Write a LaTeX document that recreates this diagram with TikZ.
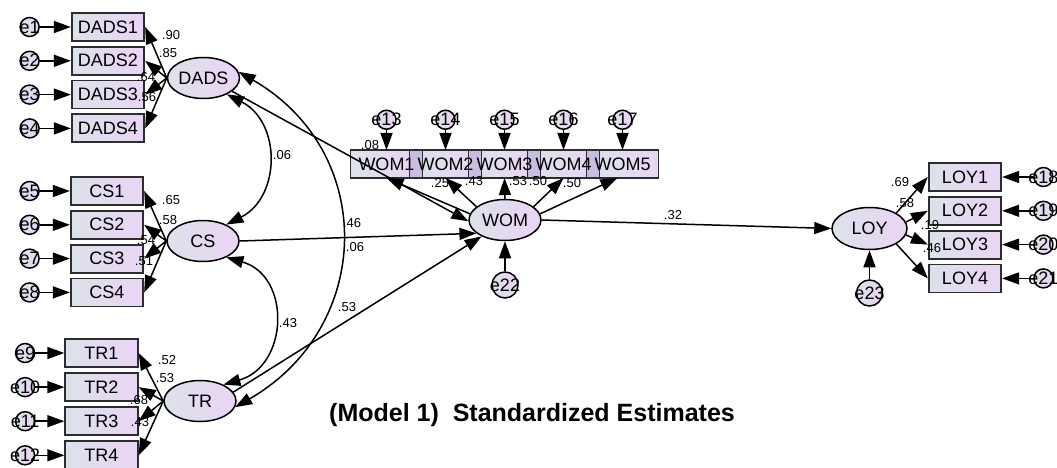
\documentclass[tikz,border=0pt]{standalone}
\usepackage{fontspec}
\setmainfont{Liberation Sans}
\usetikzlibrary{shapes.geometric, arrows.meta, positioning}

\definecolor{boxleft}{RGB}{220,226,234}
\definecolor{boxright}{RGB}{234,212,245}
\definecolor{wstrip}{RGB}{202,189,226}
\definecolor{boxline}{RGB}{45,45,45}

\begin{document}
\begin{tikzpicture}[x=1pt, y=-1pt, line width=1.5pt,
  arr/.style={-{Triangle[length=17pt,width=12pt]}},
  darr/.style={{Triangle[length=17pt,width=12pt]}-{Triangle[length=17pt,width=12pt]}},
  every node/.style={font=\fontsize{18}{20}\selectfont},
  obs/.style={rectangle, draw=boxline, line width=1.8pt, left color=boxleft, right color=boxright, minimum width=72.5pt, minimum height=28pt, inner sep=1pt},
  wobs/.style={obs, minimum width=72pt, outer sep=0pt},
  lat/.style={ellipse, draw, line width=1.5pt, left color=boxleft, right color=boxright, minimum width=72pt, minimum height=41pt, inner sep=0pt},
  err/.style={circle, draw, line width=1.5pt, left color=boxleft, right color=boxright, minimum size=19pt, inner sep=0pt},
  bigerr/.style={err, minimum size=26pt},
  lbl/.style={font=\fontsize{13}{14}\selectfont, inner sep=0pt}]
  \useasboundingbox (0,0) rectangle (1057,468);

  % Latent variables
  \node (DADS) [lat] at (203.5,78) {DADS};
  \node (CS) [lat] at (203,241) {CS};
  \node (TR) [lat] at (200,401) {TR};
  \node (WOM) [lat] at (505,220) {WOM};
  \node (LOY) [lat, minimum width=75pt, minimum height=42pt] at (869.5,228.5) {LOY};

  % DADS indicators
  \node (DADS1) [obs] at (108,27) {DADS1};
  \node (DADS2) [obs, below=4pt of DADS1] {DADS2};
  \node (DADS3) [obs, below=4pt of DADS2] {DADS3};
  \node (DADS4) [obs, below=4pt of DADS3] {DADS4};
  \node (e1) [err, left=31pt of DADS1] {\makebox[0pt]{e1}};
  \node (e2) [err, left=31pt of DADS2] {\makebox[0pt]{e2}};
  \node (e3) [err, left=31pt of DADS3] {\makebox[0pt]{e3}};
  \node (e4) [err, left=31pt of DADS4] {\makebox[0pt]{e4}};

  % CS indicators
  \node (CS1) [obs] at (107,191) {CS1};
  \node (CS2) [obs, below=4pt of CS1] {CS2};
  \node (CS3) [obs, below=4pt of CS2] {CS3};
  \node (CS4) [obs, below=4pt of CS3] {CS4};
  \node (e5) [err, left=30pt of CS1] {\makebox[0pt]{e5}};
  \node (e6) [err, left=30pt of CS2] {\makebox[0pt]{e6}};
  \node (e7) [err, left=30pt of CS3] {\makebox[0pt]{e7}};
  \node (e8) [err, left=30pt of CS4] {\makebox[0pt]{e8}};

  % TR indicators
  \node (TR1) [obs] at (101.5,353) {TR1};
  \node (TR2) [obs, below=4.3pt of TR1] {TR2};
  \node (TR3) [obs, below=4.3pt of TR2] {TR3};
  \node (TR4) [obs, below=4.3pt of TR3] {TR4};
  \node (e9) [err, left=29pt of TR1] {\makebox[0pt]{e9}};
  \node (e10) [err, left=29pt of TR2] {\makebox[0pt]{e10}};
  \node (e11) [err, left=29pt of TR3] {\makebox[0pt]{e11}};
  \node (e12) [err, left=29pt of TR4] {\makebox[0pt]{e12}};

  % WOM indicators (boxes overlap, names written on top)
  \node (WOM1) [wobs] at (386.5,164) {};
  \node (WOM2) [wobs, right=-13pt of WOM1] {};
  \node (WOM3) [wobs, right=-13pt of WOM2] {};
  \node (WOM4) [wobs, right=-13pt of WOM3] {};
  \node (WOM5) [wobs, right=-13pt of WOM4] {};
  \draw[boxline, line width=1.8pt, fill=wstrip] (WOM2.north west) rectangle (WOM1.south east);
  \draw[boxline, line width=1.8pt, fill=wstrip] (WOM3.north west) rectangle (WOM2.south east);
  \draw[boxline, line width=1.8pt, fill=wstrip] (WOM4.north west) rectangle (WOM3.south east);
  \draw[boxline, line width=1.8pt, fill=wstrip] (WOM5.north west) rectangle (WOM4.south east);
  \node (WOM1t) at (WOM1) {WOM1};
  \node (WOM2t) at (WOM2) {WOM2};
  \node (WOM3t) at (WOM3) {WOM3};
  \node (WOM4t) at (WOM4) {WOM4};
  \node (WOM5t) at (WOM5) {WOM5};
  \node (e13) [err, above=20pt of WOM1] {\makebox[0pt]{e13}};
  \node (e14) [err, above=20pt of WOM2] {\makebox[0pt]{e14}};
  \node (e15) [err, above=20pt of WOM3] {\makebox[0pt]{e15}};
  \node (e16) [err, above=20pt of WOM4] {\makebox[0pt]{e16}};
  \node (e17) [err, above=20pt of WOM5] {\makebox[0pt]{e17}};
  \node (e22) [bigerr, below=30pt of WOM] {\makebox[0pt]{e22}};

  % LOY indicators
  \node (LOY1) [obs] at (965,177) {LOY1};
  \node (LOY2) [obs, below=4pt of LOY1] {LOY2};
  \node (LOY3) [obs, below=4pt of LOY2] {LOY3};
  \node (LOY4) [obs, below=4pt of LOY3] {LOY4};
  \node (e18) [err, right=31pt of LOY1] {\makebox[0pt]{e18}};
  \node (e19) [err, right=31pt of LOY2] {\makebox[0pt]{e19}};
  \node (e20) [err, right=31pt of LOY3] {\makebox[0pt]{e20}};
  \node (e21) [err, right=31pt of LOY4] {\makebox[0pt]{e21}};
  \node (e23) [bigerr, below=29pt of LOY] {\makebox[0pt]{e23}};

  % Errors to indicators
  \draw[arr] (e1) -- (DADS1);
  \draw[arr] (e2) -- (DADS2);
  \draw[arr] (e3) -- (DADS3);
  \draw[arr] (e4) -- (DADS4);
  \draw[arr] (e5) -- (CS1);
  \draw[arr] (e6) -- (CS2);
  \draw[arr] (e7) -- (CS3);
  \draw[arr] (e8) -- (CS4);
  \draw[arr] (e9) -- (TR1);
  \draw[arr] (e10) -- (TR2);
  \draw[arr] (e11) -- (TR3);
  \draw[arr] (e12) -- (TR4);
  \draw[arr] (e13) -- (WOM1);
  \draw[arr] (e14) -- (WOM2);
  \draw[arr] (e15) -- (WOM3);
  \draw[arr] (e16) -- (WOM4);
  \draw[arr] (e17) -- (WOM5);
  \draw[arr] (e18) -- (LOY1);
  \draw[arr] (e19) -- (LOY2);
  \draw[arr] (e20) -- (LOY3);
  \draw[arr] (e21) -- (LOY4);
  \draw[arr] (e22) -- (WOM);
  \draw[arr] (e23) -- (LOY);

  % Loadings
  \draw[arr] (DADS.west) -- (DADS1.east);
  \draw[arr] (DADS.west) -- (DADS2.east);
  \draw[arr] (DADS.west) -- (DADS3.east);
  \draw[arr] (DADS.west) -- (DADS4.east);
  \draw[arr] (CS.west) -- (CS1.east);
  \draw[arr] (CS.west) -- (CS2.east);
  \draw[arr] (CS.west) -- (CS3.east);
  \draw[arr] (CS.west) -- (CS4.east);
  \draw[arr] (TR.west) -- (TR1.east);
  \draw[arr] (TR.west) -- (TR2.east);
  \draw[arr] (TR.west) -- (TR3.east);
  \draw[arr] (TR.west) -- (TR4.east);
  \draw[arr] (WOM.170) -- (WOM1.south);
  \draw[arr] (WOM.155) -- (WOM2.south);
  \draw[arr] (WOM.north) -- (WOM3.south);
  \draw[arr] (WOM.25) -- (WOM4.south);
  \draw[arr] (WOM.10) -- (WOM5.250);
  \draw[arr] (LOY.30) -- (LOY1.west);
  \draw[arr] (LOY.10) -- (LOY2.west);
  \draw[arr] (LOY.-10) -- (LOY3.west);
  \draw[arr] (LOY.-30) -- (LOY4.west);

  % Structural paths
  \draw[arr] (DADS.-25) -- (WOM.182);
  \draw[arr] (CS.east) -- (WOM.205);
  \draw[arr] (TR.15) -- (WOM.215);
  \draw[arr] (WOM.east) -- (LOY.west);

  % Covariances
  \draw[darr] (DADS.-35) to[out=-27, in=27, looseness=1.2] (CS.35);
  \draw[darr] (CS.-35) to[out=-16, in=16, looseness=1.36] (TR.35);
  \draw[darr] (DADS.10) to[out=-30, in=30, looseness=1.22] (TR.-10);

  % Estimates
  \node (r1) [lbl] at (171,35) {.90};
  \node (r2) [lbl] at (168,53) {.85};
  \node (r3) [lbl] at (146,77) {.64};
  \node (r4) [lbl] at (147,97) {.56};
  \node (r5) [lbl] at (171,200) {.65};
  \node (r6) [lbl] at (168,220) {.58};
  \node (r7) [lbl] at (146,240) {.54};
  \node (r8) [lbl] at (144,261) {.51};
  \node (r9) [lbl] at (167,360) {.52};
  \node (r10) [lbl] at (165,378) {.53};
  \node (r11) [lbl] at (139,400) {.68};
  \node (r12) [lbl] at (140,422) {.43};
  \node (r13) [lbl] at (370,145) {.08};
  \node (r14) [lbl] at (440,183) {.25};
  \node (r15) [lbl] at (474,181) {.43};
  \node (r16) [lbl] at (518,181) {.53};
  \node (r17) [lbl] at (538,181) {.50};
  \node (r18) [lbl] at (572,183) {.50};
  \node (r19) [lbl] at (900,182) {.69};
  \node (r20) [lbl] at (905,203) {.58};
  \node (r21) [lbl] at (930,225) {.19};
  \node (r22) [lbl] at (932,248) {.46};
  \node (c1) [lbl] at (282,155) {.06};
  \node (c2) [lbl] at (288,323) {.43};
  \node (c3) [lbl] at (352,223) {.46};
  \node (b1) [lbl] at (355,247) {.06};
  \node (b2) [lbl] at (347,307) {.53};
  \node (b3) [lbl] at (673,215) {.32};

  % Title
  \node (title) [font=\fontsize{25}{28}\selectfont\bfseries] at (532,415) {(Model 1)\ \ Standardized Estimates};
\end{tikzpicture}
\end{document}
